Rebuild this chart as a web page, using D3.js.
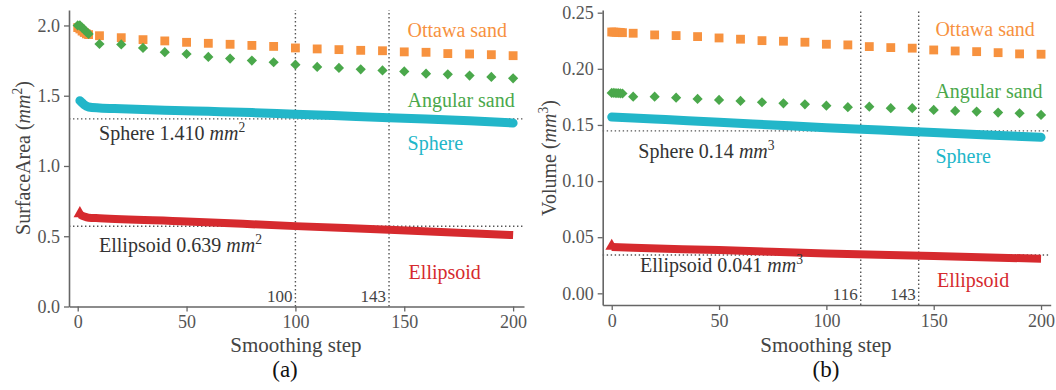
<!DOCTYPE html>
<html>
<head>
<meta charset="utf-8">
<style type="text/css">
	body{ margin:0; background:#fff; }
	svg text{ font-family:"Liberation Serif","Times New Roman",serif; }
</style>
<script src="https://cdn.jsdelivr.net/npm/d3@7/dist/d3.min.js"></script>
</head>
<body>
<svg id="svg" width="1056" height="390"></svg>
<script type="text/javascript">

	// marker steps (sand samples): dense at the start, then every 10
	var markerSteps = [0,1,2,3,4,5,10,20,30,40,50,60,70,80,90,100,110,120,130,140,150,160,170,180,190,200];

	// (a) surface area
	var areaOttawa  = [1.985,1.975,1.96,1.95,1.94,1.935,1.927,1.913,1.899,1.89,1.88,1.873,1.866,1.858,1.851,1.84,1.833,1.828,1.823,1.82,1.812,1.809,1.80,1.797,1.792,1.785];
	var areaAngular = [2.0,2.0,1.985,1.97,1.955,1.94,1.868,1.865,1.84,1.81,1.797,1.776,1.764,1.75,1.738,1.721,1.705,1.698,1.688,1.68,1.673,1.657,1.652,1.643,1.634,1.624];
	var areaSphereSteps = [1,2,3,5,10,20,40,60,80,100,120,143,160,180,200];
	var areaSphere      = [1.465,1.45,1.435,1.42,1.413,1.407,1.397,1.389,1.38,1.368,1.357,1.344,1.334,1.321,1.306];
	var areaEllipsoidSteps = [1,3,5,10,50,100,143,200];
	var areaEllipsoid      = [0.655,0.64,0.632,0.628,0.605,0.572,0.546,0.508];
	var areaRefs  = [1.335, 0.571];
	var areaMarks = [100, 143];
	var areaTicks = [0.0, 0.5, 1.0, 1.5, 2.0];

	// (b) volume
	var volOttawa  = [0.2328,0.2327,0.2326,0.2325,0.2324,0.2322,0.2317,0.2302,0.2296,0.2287,0.2275,0.2264,0.2251,0.2246,0.2237,0.2219,0.2213,0.2198,0.2189,0.2184,0.2168,0.2159,0.2153,0.2144,0.2133,0.213];
	var volAngular = [0.1785,0.1785,0.1784,0.1783,0.1782,0.178,0.1752,0.1752,0.1743,0.1732,0.1723,0.1714,0.1702,0.1693,0.1684,0.1672,0.1658,0.1663,0.1649,0.1649,0.1634,0.1625,0.1619,0.161,0.1604,0.1589];
	var volSphereSteps = [0,10,25,50,75,100,125,150,175,200];
	var volSphere      = [0.157,0.1562,0.1548,0.1525,0.150,0.1475,0.1455,0.1432,0.141,0.139];
	var volEllipsoidSteps = [0,10,50,100,150,200];
	var volEllipsoid      = [0.0412,0.0405,0.0386,0.0355,0.0333,0.0308];
	var volRefs  = [0.1447, 0.0341];
	var volMarks = [116, 143];
	var volTicks = [0.00, 0.05, 0.10, 0.15, 0.20, 0.25];

	var xTicks = [0, 50, 100, 150, 200];

	var colors = { ottawa:"#f7923f", angular:"#4aa84b", sphere:"#22b6c9", ellipsoid:"#d62a2e" };
	var serif = "Liberation Serif, Times New Roman, serif";

	var svg = d3.select("#svg");
	svg.append("rect").attr("width",1056).attr("height",390).style("fill","#fff");

	function zip(xs, ys){ return xs.map(function(x,i){ return {x:x, y:ys[i]}; }); }

	// text with italic unit and superscript
	function unitText(sel, before, power, after){
		sel.append("tspan").text(before);
		sel.append("tspan").style("font-style","italic").text("mm");
		sel.append("tspan").attr("dy",-8).style("font-size","0.68em").text(power);
		if(after) sel.append("tspan").attr("dy",8).text(after);
	}

	function drawPanel(p){
		var x = d3.scaleLinear().domain(p.xDomain).range(p.xRange);
		var y = d3.scaleLinear().domain(p.yDomain).range(p.yRange);
		var g = svg.append("g").attr("font-family", serif);

		// reference lines
		g.selectAll("line.ref").data(p.refs).enter().append("line")
			.attr("x1", p.xRange[0]).attr("x2", p.xRange[1])
			.attr("y1", function(d){ return y(d); }).attr("y2", function(d){ return y(d); })
			.style("stroke","#555").style("stroke-width",1.4).style("stroke-dasharray","1.4,2.6");
		g.selectAll("line.mark").data(p.marks).enter().append("line")
			.attr("x1", function(d){ return x(d); }).attr("x2", function(d){ return x(d); })
			.attr("y1", p.yRange[0]).attr("y2", p.yRange[1])
			.style("stroke","#555").style("stroke-width",1.4).style("stroke-dasharray","1.4,2.6");
		g.selectAll("text.mark").data(p.marks).enter().append("text")
			.attr("x", function(d){ return x(d) - 3; }).attr("y", p.yRange[0] - 5)
			.attr("text-anchor","end").attr("font-family", serif).style("font-size","17px").style("fill","#444")
			.text(function(d){ return d; });

		var line = d3.line().x(function(d){ return x(d.x); }).y(function(d){ return y(d.y); }).curve(d3.curveMonotoneX);

		// sphere: dense circles -> thick band
		g.append("path").datum(zip(p.sphereSteps, p.sphere)).attr("d", line)
			.style("fill","none").style("stroke",colors.sphere).style("stroke-width",9).style("stroke-linecap","round");

		// ellipsoid: dense triangles -> thick band, first triangle marks the start
		var ell = zip(p.ellipsoidSteps, p.ellipsoid);
		g.append("path").datum(ell).attr("d", line)
			.style("fill","none").style("stroke",colors.ellipsoid).style("stroke-width",8);
		g.selectAll("path.tri").data(ell.slice(0,1)).enter().append("path")
			.attr("d", d3.symbol().type(d3.symbolTriangle).size(70))
			.attr("transform", function(d){ return "translate("+x(d.x)+","+(y(d.y)-1)+")"; })
			.style("fill",colors.ellipsoid);

		// ottawa sand squares
		g.selectAll("path.sq").data(zip(markerSteps, p.ottawa)).enter().append("path")
			.attr("d", d3.symbol().type(d3.symbolSquare).size(78))
			.attr("transform", function(d){ return "translate("+x(d.x)+","+y(d.y)+")"; })
			.style("fill",colors.ottawa);

		// angular sand diamonds
		g.selectAll("path.dm").data(zip(markerSteps, p.angular)).enter().append("path")
			.attr("d", d3.symbol().type(d3.symbolSquare).size(52))
			.attr("transform", function(d){ return "translate("+x(d.x)+","+y(d.y)+") rotate(45)"; })
			.style("fill",colors.angular);

		// axes
		var ax = g.append("g").attr("transform","translate(0,"+p.yRange[0]+")")
			.call(d3.axisBottom(x).tickValues(xTicks).tickSize(5).tickSizeOuter(0).tickPadding(4));
		var ay = g.append("g").attr("transform","translate("+p.xRange[0]+",0)")
			.call(d3.axisLeft(y).tickValues(p.yTicks).tickFormat(d3.format(p.yFormat)).tickSize(5).tickSizeOuter(0).tickPadding(4));
		[ax, ay].forEach(function(a){
			a.attr("font-family", serif).attr("font-size", 18);
			a.select(".domain").style("stroke","#666").style("stroke-width",1.6);
			a.selectAll(".tick line").style("stroke","#666").style("stroke-width",1.3);
			a.selectAll(".tick text").attr("font-family", serif).style("font-size","18px").style("fill","#555");
		});

		// series labels
		g.selectAll("text.lab").data(p.labels).enter().append("text")
			.attr("x", function(d){ return x(d.x); }).attr("y", function(d){ return y(d.y); })
			.attr("font-family", serif).style("font-size","20px").style("fill", function(d){ return d.color; })
			.text(function(d){ return d.text; });

		// reference annotations
		p.notes.forEach(function(n){
			var t = g.append("text").attr("x", x(n.x)).attr("y", y(n.y)).attr("font-family", serif)
				.style("font-size","20px").style("fill","#333");
			unitText(t, n.text, p.power);
		});

		// axis titles
		g.append("text").attr("x", p.xTitleX).attr("y", 352).attr("text-anchor","middle").attr("font-family", serif)
			.style("font-size","21px").style("fill","#444").text("Smoothing step");
		g.append("text").attr("x", p.capX).attr("y", 377).attr("text-anchor","middle").attr("font-family", serif)
			.style("font-size","23px").style("fill","#111").text(p.caption);
		var yt = g.append("text").attr("transform","translate("+p.yTitleX+",158) rotate(-90)").attr("font-family", serif)
			.attr("text-anchor","middle").style("font-size","20px").style("fill","#444");
		unitText(yt, p.yTitle + " (", p.power, ")");
	}

	drawPanel({
		xDomain:[-4,205], xRange:[69,524],
		yDomain:[0,2.11], yRange:[306.5,10],
		yTicks:areaTicks, yFormat:".1f", power:"2",
		ottawa:areaOttawa, angular:areaAngular,
		sphereSteps:areaSphereSteps, sphere:areaSphere,
		ellipsoidSteps:areaEllipsoidSteps, ellipsoid:areaEllipsoid,
		refs:areaRefs, marks:areaMarks,
		labels:[
			{text:"Ottawa sand", x:151.5, y:1.918, color:"#f7923f"},
			{text:"Angular sand", x:151.5, y:1.42, color:"#4aa84b"},
			{text:"Sphere", x:151.5, y:1.113, color:"#22b6c9"},
			{text:"Ellipsoid", x:152, y:0.196, color:"#d62a2e"}
		],
		notes:[
			{text:"Sphere 1.410 ", x:9.8, y:1.185},
			{text:"Ellipsoid 0.639 ", x:9.8, y:0.39}
		],
		xTitleX:296, capX:285, caption:"(a)",
		yTitleX:30, yTitle:"SurfaceArea"
	});

	drawPanel({
		xDomain:[-4.2,204.5], xRange:[602.7,1050.7],
		yDomain:[-0.0104,0.2524], yRange:[305,10],
		yTicks:volTicks, yFormat:".2f", power:"3",
		ottawa:volOttawa, angular:volAngular,
		sphereSteps:volSphereSteps, sphere:volSphere,
		ellipsoidSteps:volEllipsoidSteps, ellipsoid:volEllipsoid,
		refs:volRefs, marks:volMarks,
		labels:[
			{text:"Ottawa sand", x:150.8, y:0.2295, color:"#f7923f"},
			{text:"Angular sand", x:150.8, y:0.1737, color:"#4aa84b"},
			{text:"Sphere", x:150.8, y:0.1164, color:"#22b6c9"},
			{text:"Ellipsoid", x:151.5, y:0.0059, color:"#d62a2e"}
		],
		notes:[
			{text:"Sphere 0.14 ", x:12.4, y:0.1203},
			{text:"Ellipsoid 0.041 ", x:13.2, y:0.0192}
		],
		xTitleX:826, capX:826, caption:"(b)",
		yTitleX:556, yTitle:"Volume"
	});

</script>
</body>
</html>
